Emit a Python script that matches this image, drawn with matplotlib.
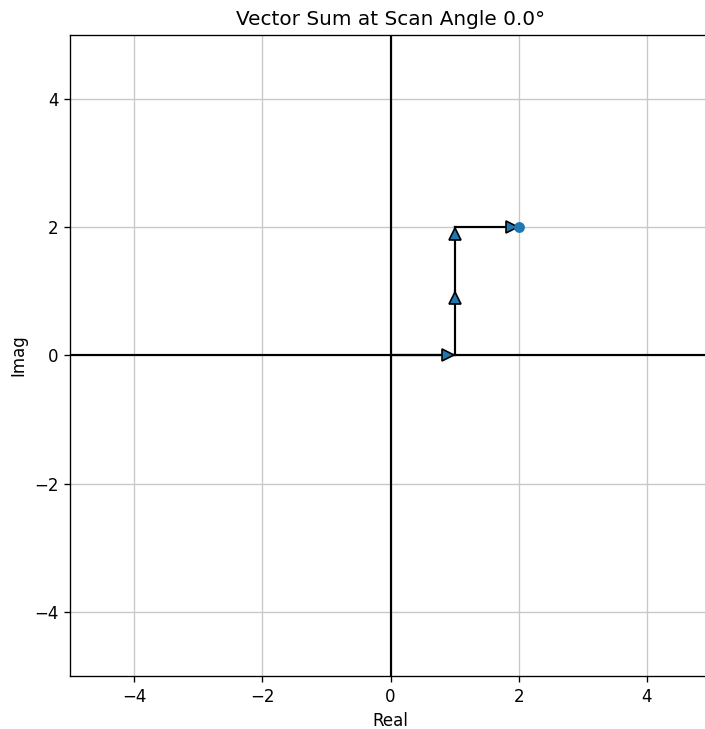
import numpy as np
import matplotlib.pyplot as plt

# phasors of each element (cumulative sum is drawn head to tail)
phasors_re = [1.0, 0.0, 0.0, 1.0]
phasors_im = [0.0, 1.0, 1.0, 0.0]
scan_angle = 0.0

re = np.concatenate([[0], np.cumsum(phasors_re)])
im = np.concatenate([[0], np.cumsum(phasors_im)])

fig = plt.figure(figsize=(705/120, 729/120), dpi=120)
ax = fig.add_axes([70/705, 53/729, 641/705, 641/729])

ax.axhline(0, color='black', lw=1.3)
ax.axvline(0, color='black', lw=1.3)

for i in range(len(phasors_re)):
    x0, y0, x1, y1 = re[i], im[i], re[i+1], im[i+1]
    ax.plot([x0, x1], [y0, y1], color='black', lw=1.3)
    dx, dy = x1 - x0, y1 - y0
    if abs(dx) > abs(dy):
        mk = '>' if dx > 0 else '<'
    else:
        mk = '^' if dy > 0 else 'v'
    ax.plot(x1 - 0.1*dx, y1 - 0.1*dy, marker=mk, markersize=7,
            markerfacecolor='#1f77b4', markeredgecolor='black', markeredgewidth=1.0)

ax.plot(re[-1], im[-1], 'o', color='#1f77b4', markersize=5.5)

ax.set_xlim(-5, 5)
ax.set_ylim(-5, 5)
ax.set_xticks([-4, -2, 0, 2, 4])
ax.set_yticks([-4, -2, 0, 2, 4])
ax.grid(True, color='#c8c8c8')
ax.set_xlabel('Real')
ax.set_ylabel('Imag')
ax.set_title(f'Vector Sum at Scan Angle {scan_angle}°')
ax.set_aspect('equal')

plt.savefig('out.png')
